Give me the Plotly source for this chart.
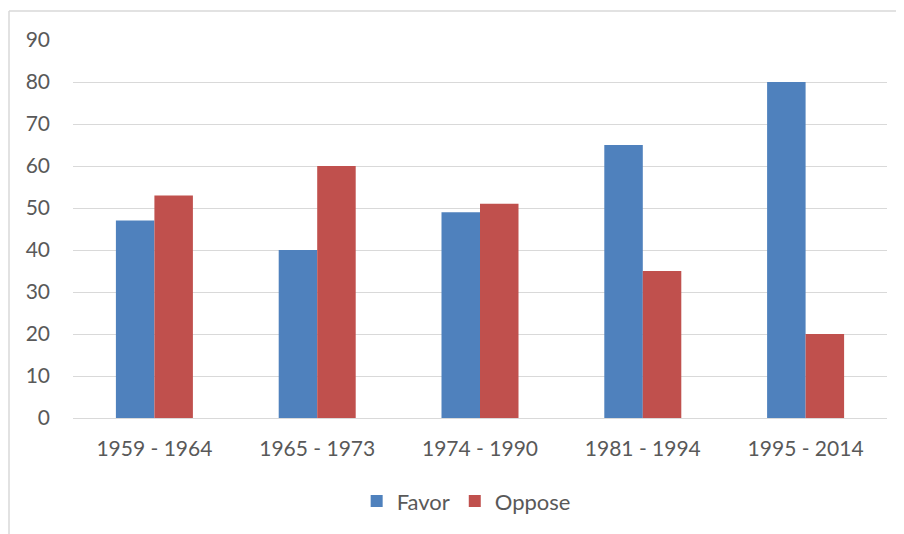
import plotly.graph_objects as go

categories = ["1959 - 1964", "1965 - 1973", "1974 - 1990", "1981 - 1994", "1995 - 2014"]
favor = [47, 40, 49, 65, 80]
oppose = [53, 60, 51, 35, 20]
y_ticks = [0, 10, 20, 30, 40, 50, 60, 70, 80, 90]

# page body has an 8px margin, so the figure is 8px smaller and offset
W, H = 896, 526
L, R, T, B = 65, 17, 32, 116
pw = W - L - R
ph = H - T - B

fig = go.Figure()
fig.add_trace(go.Bar(name="Favor", x=categories, y=favor, marker_color="#4f81bd",
                     marker_line_width=0))
fig.add_trace(go.Bar(name="Oppose", x=categories, y=oppose, marker_color="#c0504d",
                     marker_line_width=0))

font = "Lato, 'Open Sans', sans-serif"
fig.update_layout(
    width=W, height=H,
    margin=dict(l=L, r=R, t=T, b=B),
    paper_bgcolor="white", plot_bgcolor="white",
    barmode="group", bargap=0.527, bargroupgap=0,
    font=dict(family=font, size=21, color="#595959"),
    showlegend=True,
    legend=dict(orientation="h", x=0.483, xanchor="center", y=-0.22, yanchor="middle",
                font=dict(size=22, color="#595959"), itemwidth=30, traceorder="normal"),
    xaxis=dict(showgrid=False, showline=True, linecolor="#d9d9d9", linewidth=1,
               ticks="", tickfont=dict(size=21, color="#595959"), ticklabelstandoff=12),
    yaxis=dict(range=[0, 90], tickvals=y_ticks, showgrid=True, gridcolor="#d9d9d9",
               gridwidth=1, zeroline=False, showline=False, ticks="",
               tickfont=dict(size=21, color="#595959"), ticklabelstandoff=22),
    shapes=[
        dict(type="line", xref="paper", yref="paper",
             x0=(1 - L) / pw, x1=(1 - L) / pw, y0=(H - B - 3) / ph, y1=(H - B - 540) / ph,
             line=dict(color="#d9d9d9", width=1.5)),
        dict(type="line", xref="paper", yref="paper",
             x0=(1 - L) / pw, x1=(910 - L) / pw, y0=(H - B - 3) / ph, y1=(H - B - 3) / ph,
             line=dict(color="#d9d9d9", width=1.5)),
    ],
)

fig.write_html("out.html")
